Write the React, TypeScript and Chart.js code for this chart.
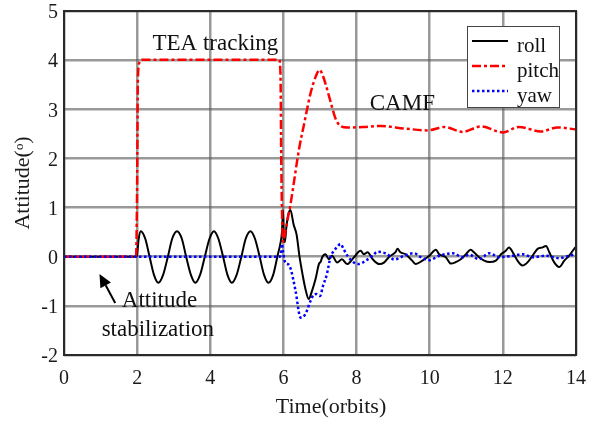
import { useEffect, useRef } from "react";
import { Chart, registerables } from "chart.js";

Chart.register(...registerables);

const FONT = "'Liberation Serif', 'Times New Roman', 'DejaVu Serif', serif";

const xTickValues = [0, 2, 4, 6, 8, 10, 12, 14];
const yTickValues = [-2, -1, 0, 1, 2, 3, 4, 5];

const seriesNames = ["roll", "pitch", "yaw"];

const rollData: number[][] = [
  [0, 0], [1.97, 0], [2.0, 0.05], [2.04, 0.35], [2.1, 0.52], [2.22, 0.37], [2.34, 0], [2.46, -0.37],
  [2.58, -0.53], [2.71, -0.37], [2.84, 0], [2.96, 0.37], [3.09, 0.52], [3.22, 0.37], [3.34, 0],
  [3.47, -0.37], [3.59, -0.53], [3.72, -0.37], [3.85, 0], [3.98, 0.37], [4.1, 0.52], [4.22, 0.37],
  [4.35, 0], [4.47, -0.37], [4.59, -0.53], [4.72, -0.37], [4.85, 0], [4.97, 0.37], [5.1, 0.52],
  [5.22, 0.37], [5.35, 0], [5.47, -0.37], [5.59, -0.53], [5.72, -0.37], [5.84, 0.02], [5.92, 0.28],
  [5.96, 0.5], [5.99, 0.95], [6.01, 0.4], [6.04, 0.3], [6.08, 0.6], [6.13, 0.85], [6.19, 0.95],
  [6.28, 0.65], [6.36, 0.45], [6.44, 0.0], [6.52, -0.35], [6.6, -0.65], [6.69, -0.86], [6.78, -0.7],
  [6.88, -0.45], [6.97, -0.15], [7.02, -0.1], [7.06, -0.01], [7.15, 0.05], [7.24, -0.05], [7.33, 0.02],
  [7.47, -0.12], [7.6, -0.05], [7.74, -0.15], [7.93, -0.01], [8.11, 0.12], [8.2, 0.05], [8.3, 0.09],
  [8.44, -0.05], [8.62, -0.15], [8.75, -0.12], [8.88, -0.01], [9.07, 0.1], [9.12, 0.16], [9.2, 0.09],
  [9.34, 0.05], [9.52, -0.08], [9.62, -0.15], [9.8, -0.08], [9.99, 0.02], [10.17, 0.14], [10.26, 0.05],
  [10.44, -0.01], [10.58, -0.14], [10.71, -0.11], [10.85, -0.05], [10.99, 0.05], [11.12, 0.14],
  [11.21, 0.09], [11.35, -0.01], [11.49, -0.08], [11.63, -0.11], [11.81, -0.08], [11.95, 0.05],
  [12.08, 0.12], [12.17, 0.19], [12.27, 0.09], [12.4, -0.08], [12.54, -0.18], [12.68, -0.11],
  [12.81, 0.02], [12.95, 0.16], [13.09, 0.19], [13.18, 0.22], [13.27, 0.09], [13.4, -0.11],
  [13.54, -0.21], [13.68, -0.08], [13.81, 0.02], [13.95, 0.16], [14, 0.2],
];

const pitchData: number[][] = [
  [0, 0], [1.97, 0], [2.0, 1.5], [2.02, 3.6], [2.06, 3.95], [2.14, 4.01], [4, 4.01], [5.88, 4.01],
  [5.92, 3.7], [5.94, 2.0], [5.97, 0.6], [6.0, 0.3], [6.04, 0.45], [6.1, 0.7], [6.19, 1.05],
  [6.28, 1.48], [6.42, 2.16], [6.56, 2.68], [6.74, 3.32], [6.88, 3.66], [6.99, 3.8], [7.07, 3.7],
  [7.15, 3.52], [7.29, 3.15], [7.42, 2.82], [7.56, 2.66], [7.75, 2.63], [8.2, 2.64], [8.66, 2.66],
  [9.3, 2.61], [9.94, 2.57], [10.4, 2.64], [10.9, 2.54], [11.4, 2.65], [12.0, 2.53], [12.44, 2.64],
  [13.04, 2.55], [13.5, 2.63], [14, 2.59],
];

const yawData: number[][] = [
  [0, 0], [5.9, 0], [5.94, 0.1], [5.96, 0.26], [5.99, 0.1], [6.05, -0.12], [6.14, -0.16], [6.2, -0.25],
  [6.33, -0.69], [6.47, -1.24], [6.6, -1.17], [6.74, -0.9], [6.82, -0.78], [6.9, -0.76], [7.0, -0.8],
  [7.08, -0.6], [7.19, -0.35], [7.29, 0.0], [7.38, 0.12], [7.47, 0.2], [7.56, 0.26], [7.65, 0.15],
  [7.75, 0.02], [7.93, -0.12], [8.06, -0.15], [8.25, -0.08], [8.44, 0.02], [8.57, 0.1], [8.84, 0.05],
  [9.03, -0.06], [9.3, 0.02], [9.57, 0.07], [9.76, -0.01], [9.99, -0.07], [10.26, 0.02], [10.63, 0.07],
  [10.9, -0.01], [11.08, 0.04], [11.35, -0.05], [11.63, 0.07], [11.9, -0.01], [12.27, 0.02],
  [12.54, 0.05], [12.81, -0.01], [13.18, 0.02], [13.54, -0.03], [13.81, 0.02], [14, 0.05],
];

// annotations: [text, x, y, align]
const annotations: [string, number, number, CanvasTextAlign][] = [
  ["TEA tracking", 4.14, 4.2, "center"],
  ["CAMF", 8.36, 2.98, "left"],
  ["Attitude", 1.58, -1.03, "left"],
  ["stabilization", 1.03, -1.61, "left"],
];
const arrowTail = [1.4, -0.94];
const arrowTip = [0.97, -0.35];

const COLORS = ["#000000", "#ff0000", "#0000ff"];
const DASHES = [[], [9, 3, 3, 3], [2.5, 2.5]];
const WIDTHS = [2, 2.5, 2.5];

const toPts = (arr: number[][]) => arr.map(([x, y]) => ({ x, y }));

const overlay = {
  id: "overlay",
  afterDatasetsDraw(chart: any) {
    const { ctx, chartArea: a, scales } = chart;
    const xs = scales.x;
    const ys = scales.y;
    ctx.save();
    // frame
    ctx.strokeStyle = "#2a2a2a";
    ctx.lineWidth = 2;
    ctx.setLineDash([]);
    ctx.strokeRect(a.left, a.top, a.right - a.left, a.bottom - a.top);

    // annotations
    ctx.fillStyle = "#111";
    ctx.font = `23px ${FONT}`;
    ctx.textBaseline = "alphabetic";
    for (const [t, ax, ay, al] of annotations) {
      ctx.textAlign = al;
      ctx.fillText(t, xs.getPixelForValue(ax), ys.getPixelForValue(ay));
    }
    // arrow
    const tx = xs.getPixelForValue(arrowTail[0]);
    const ty = ys.getPixelForValue(arrowTail[1]);
    const hx = xs.getPixelForValue(arrowTip[0]);
    const hy = ys.getPixelForValue(arrowTip[1]);
    const ang = Math.atan2(hy - ty, hx - tx);
    const hl = 13;
    const hw = 6;
    const bx = hx - hl * Math.cos(ang);
    const by = hy - hl * Math.sin(ang);
    ctx.strokeStyle = "#000";
    ctx.lineWidth = 2;
    ctx.beginPath();
    ctx.moveTo(tx, ty);
    ctx.lineTo(bx, by);
    ctx.stroke();
    ctx.fillStyle = "#000";
    ctx.beginPath();
    ctx.moveTo(hx, hy);
    ctx.lineTo(bx + hw * Math.sin(ang), by - hw * Math.cos(ang));
    ctx.lineTo(bx - hw * Math.sin(ang), by + hw * Math.cos(ang));
    ctx.closePath();
    ctx.fill();

    // legend
    const lx = a.right - 109;
    const ly = a.top + 15;
    const lw = 92;
    const lh = 81;
    ctx.fillStyle = "#fff";
    ctx.fillRect(lx, ly, lw, lh);
    ctx.strokeStyle = "#444";
    ctx.lineWidth = 1;
    ctx.strokeRect(lx + 0.5, ly + 0.5, lw, lh);
    ctx.font = `21px ${FONT}`;
    ctx.textAlign = "left";
    ctx.textBaseline = "alphabetic";
    seriesNames.forEach((name, i) => {
      const rowY = ly + 15 + i * 25;
      ctx.strokeStyle = COLORS[i];
      ctx.lineWidth = WIDTHS[i];
      ctx.setLineDash(DASHES[i]);
      ctx.beginPath();
      ctx.moveTo(lx + 5, rowY);
      ctx.lineTo(lx + 41, rowY);
      ctx.stroke();
      ctx.setLineDash([]);
      ctx.fillStyle = "#111";
      ctx.fillText(name, lx + 50, rowY + 10.5);
    });
    ctx.restore();
  },
};

export default function App() {
  const ref = useRef<HTMLCanvasElement>(null);
  useEffect(() => {
    const datasetsRaw = [rollData, pitchData, yawData];
    const chart = new Chart(ref.current!, {
      type: "line",
      data: {
        datasets: datasetsRaw.map((d, i) => ({
          label: seriesNames[i],
          data: toPts(d),
          borderColor: COLORS[i],
          backgroundColor: COLORS[i],
          borderWidth: WIDTHS[i],
          borderDash: DASHES[i],
          pointRadius: 0,
          fill: false,
          cubicInterpolationMode: "monotone" as const,
          order: 2 - i,
        })),
      },
      options: {
        animation: false,
        responsive: true,
        maintainAspectRatio: false,
        layout: { padding: { top: 11, right: 15, left: 0, bottom: 0 } },
        plugins: { legend: { display: false }, tooltip: { enabled: false } },
        scales: {
          x: {
            type: "linear",
            min: 0,
            max: 14,
            afterFit: (s: any) => {
              s.height = 67;
              s.paddingLeft = 0;
              s.paddingRight = 0;
            },
            afterBuildTicks: (s: any) => {
              s.ticks = xTickValues.map((v) => ({ value: v }));
            },
            ticks: {
              font: { family: FONT, size: 20 },
              color: "#1a1a1a",
              padding: 12,
            },
            grid: { color: "rgba(90,90,90,0.62)", lineWidth: 2.5, drawTicks: false },
            border: { display: false },
            title: {
              display: true,
              text: "    Time(orbits)",
              font: { family: FONT, size: 22 },
              color: "#1a1a1a",
              padding: { top: 0, bottom: 2 },
            },
          },
          y: {
            type: "linear",
            min: -2,
            max: 5,
            afterFit: (s: any) => {
              s.width = 64;
              s.paddingTop = 0;
              s.paddingBottom = 0;
            },
            afterBuildTicks: (s: any) => {
              s.ticks = yTickValues.map((v) => ({ value: v }));
            },
            ticks: {
              font: { family: FONT, size: 20 },
              color: "#1a1a1a",
              padding: 6,
              labelOffset: 2,
            },
            grid: { color: "rgba(90,90,90,0.62)", lineWidth: 2.5, drawTicks: false },
            border: { display: false },
            title: {
              display: true,
              text: "Attitude(ᵒ)",
              font: { family: FONT, size: 22 },
              color: "#1a1a1a",
              padding: { top: 10, bottom: 0 },
            },
          },
        },
      },
      plugins: [overlay],
    });
    return () => chart.destroy();
  }, []);
  return (
    <div style={{ position: "fixed", left: 0, top: 0, width: 591, height: 422, background: "#fff" }}>
      <canvas ref={ref} />
    </div>
  );
}
